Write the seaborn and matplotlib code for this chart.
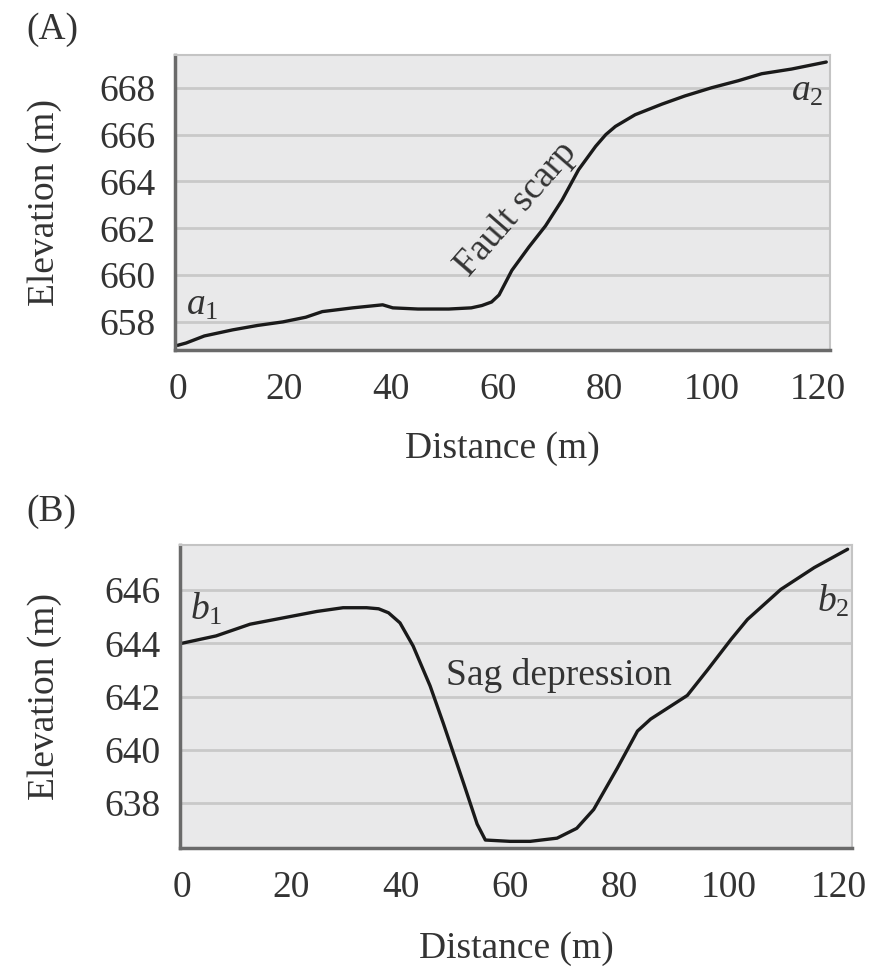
import matplotlib
matplotlib.use("Agg")
import matplotlib.pyplot as plt
import seaborn as sns
import pandas as pd

# Profile A: fault scarp
dist_a = [0, 1.6, 5, 10.3, 15, 19.7, 24, 27.1, 32.8, 38.4, 40.3, 45, 50.8, 55,
          57, 58.8, 60.2, 62.6, 65.8, 68.9, 72.0, 75.1, 78.3, 80.2, 82.0, 85.7,
          90.7, 95, 100, 105, 109.4, 115, 121.5]
elev_a = [657.0, 657.1, 657.4, 657.66, 657.85, 658.0, 658.2, 658.44, 658.6,
          658.73, 658.6, 658.55, 658.55, 658.6, 658.7, 658.85, 659.15, 660.2,
          661.2, 662.1, 663.2, 664.5, 665.5, 666.0, 666.35, 666.85, 667.3,
          667.65, 668.0, 668.3, 668.6, 668.8, 669.1]

# Profile B: sag depression
dist_b = [0, 6.3, 12.5, 18.6, 24.7, 29.5, 33.8, 36, 37.8, 39.9, 42.3, 45.4,
          47.8, 51.5, 54, 55.5, 60, 63.7, 68.6, 72.2, 75.3, 79.6, 83.3, 85.7,
          92.4, 96.1, 100.4, 103.4, 109.5, 115.6, 121.7]
elev_b = [644.0, 644.28, 644.72, 644.96, 645.2, 645.34, 645.34, 645.3, 645.15,
          644.77, 643.9, 642.4, 641.0, 638.75, 637.2, 636.6, 636.55, 636.55,
          636.67, 637.04, 637.75, 639.3, 640.7, 641.15, 642.04, 643.0, 644.15,
          644.9, 646.03, 646.85, 647.54]

x_ticks = [0, 20, 40, 60, 80, 100, 120]
y_ticks_a = [658, 660, 662, 664, 666, 668]
y_ticks_b = [638, 640, 642, 644, 646]

sns.set_theme(style="darkgrid")
plt.rcParams['font.family'] = ['Liberation Serif', 'DejaVu Serif']
plt.rcParams['mathtext.fontset'] = 'custom'
plt.rcParams['mathtext.rm'] = 'Liberation Serif'
plt.rcParams['mathtext.it'] = 'Liberation Serif:italic'

W, H = 887, 969
fig = plt.figure(figsize=(W / 100, H / 100), dpi=100)
fig.patch.set_facecolor("white")

txt = "#333333"
fs = 27


def px_axes(left, top, right, bottom):
    return fig.add_axes([left / W, 1 - bottom / H, (right - left) / W, (bottom - top) / H])


def style(ax, yticks, xlim, ylim, ylab_x, xpad):
    ax.set_facecolor("#e9e9ea")
    ax.set_xlim(*xlim)
    ax.set_ylim(*ylim)
    ax.set_xticks(x_ticks)
    ax.set_yticks(yticks)
    ax.grid(axis="y", color="#c9c9c9", lw=2)
    ax.grid(axis="x", visible=False)
    for s in ["top", "right"]:
        ax.spines[s].set_visible(True)
        ax.spines[s].set_color("#c4c4c4")
        ax.spines[s].set_linewidth(1.5)
    for s in ["left", "bottom"]:
        ax.spines[s].set_visible(True)
        ax.spines[s].set_color("#6a6a6a")
        ax.spines[s].set_linewidth(2.5)
    ax.tick_params(axis="both", which="major", labelsize=fs, labelcolor=txt,
                   length=6, width=1.5, color="#6a6a6a", direction="out")
    ax.tick_params(axis="x", pad=10)
    ax.tick_params(axis="y", pad=8)
    ax.set_xlabel("Distance (m)", fontsize=fs, color=txt, labelpad=xpad)
    ax.set_ylabel("Elevation (m)", fontsize=fs, color=txt)
    ax.yaxis.set_label_coords(ylab_x, 0.5)


# Panel A
ax1 = px_axes(175, 55, 830, 350)
df_a = pd.DataFrame({"Distance": dist_a, "Elevation": elev_a})
sns.lineplot(data=df_a, x="Distance", y="Elevation", ax=ax1, color="#1a1a1a", lw=2.4)
style(ax1, y_ticks_a, (-0.5, 122.2), (656.8, 669.4), -0.172, 18)
ax1.text(1.5, 657.95, "$a_1$", fontsize=fs, color=txt, ha="left", va="bottom")
ax1.text(121, 667.1, "$a_2$", fontsize=fs, color=txt, ha="right", va="bottom")
ax1.text(63.4, 662.8, "Fault scarp", fontsize=fs, color=txt, rotation=49,
         ha="center", va="center", rotation_mode="anchor")
fig.text(26 / W, 1 - 30 / H, "(A)", fontsize=fs, color=txt, ha="left", va="center")

# Panel B
ax2 = px_axes(180, 545, 852, 848)
df_b = pd.DataFrame({"Distance": dist_b, "Elevation": elev_b})
sns.lineplot(data=df_b, x="Distance", y="Elevation", ax=ax2, color="#1a1a1a", lw=2.4)
style(ax2, y_ticks_b, (-0.3, 122.5), (636.3, 647.7), -0.176, 19)
ax2.text(1.5, 644.6, "$b_1$", fontsize=fs, color=txt, ha="left", va="bottom")
ax2.text(122, 644.9, "$b_2$", fontsize=fs, color=txt, ha="right", va="bottom")
ax2.text(68.9, 642.8, "Sag depression", fontsize=fs, color=txt, ha="center", va="center")
fig.text(26 / W, 1 - 512 / H, "(B)", fontsize=fs, color=txt, ha="left", va="center")

fig.savefig("out.png", dpi=100, facecolor="white")
